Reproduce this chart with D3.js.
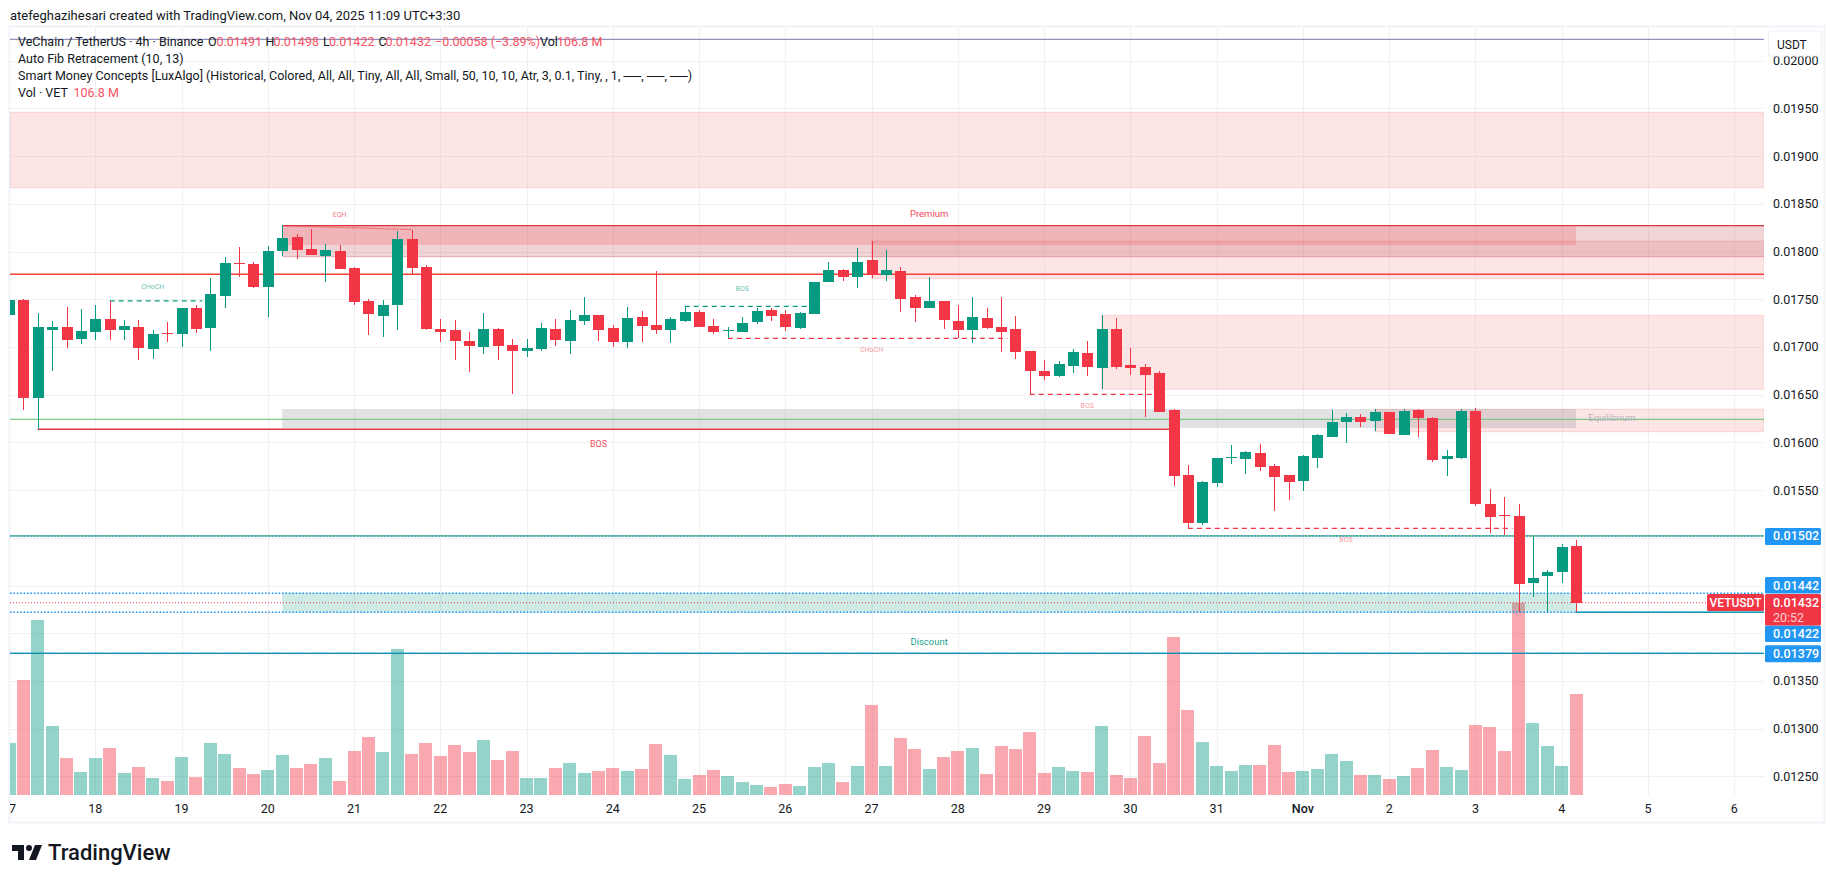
<!DOCTYPE html>
<html>
<head>
<meta charset="utf-8">
<title>VETUSDT 4h</title>
<script src="https://cdn.jsdelivr.net/npm/d3@7"></script>
<style>
    html, body { margin: 0; padding: 0; background: #fff; }
    svg { display: block; }
    text { font-family: Roboto, "Liberation Sans", sans-serif; }
</style>
</head>
<body>
<svg id="chart" width="1835" height="883"></svg>
<script>
// candles, one entry per 4h bar, starting 17 Oct
var opens = [.017336,.017493,.01647,.017179,.01721,.017084,.017158,.017294,.017179,.01721,
    .01698,.017144,.017137,.017409,.0172,.017535,.017885,.017871,.017633,.018007,
    .018154,.018028,.017955,.018007,.017829,.017483,.017325,.017441,.018133,.017839,
    .01719,.017179,.017063,.017,.01719,.017021,.016959,.01698,.01719,.017063,
    .017273,.017336,.0172,.017056,.017318,.017234,.017182,.017276,.01737,.017224,
    .017175,.017161,.017265,.017391,.017349,.017203,.017349,.017685,.01781,.017737,
    .017915,.017758,.0178,.017527,.017412,.017486,.017276,.017182,.017307,.017213,
    .017192,.016962,.016752,.0167,.016804,.016941,.016783,.017192,.016815,.016794,
    .016731,.016343,.015658,.015155,.015574,.015839,.015825,.015888,.015752,.015658,
    .015595,.015836,.016056,.016213,.016265,.016224,.016318,.016077,.016339,.016255,
    .015825,.015836,.016328,.015354,.015239,.015228,.014526,.014599,.014641,.01491];
var highs = [.017493,.017504,.017357,.017273,.01742,.017399,.017441,.017483,.017283,.017283,
    .017179,.017262,.017409,.017441,.017724,.017944,.018049,.017895,.018059,.018276,
    .018185,.018238,.01808,.01807,.017839,.0175,.017493,.018217,.018227,.017855,
    .017294,.017283,.017158,.017357,.0172,.017084,.017084,.017252,.017294,.017388,
    .017524,.017336,.017231,.017423,.017381,.0178,.017318,.017433,.017391,.017297,
    .017213,.017318,.017412,.017412,.017391,.01737,.017685,.017894,.017821,.018041,
    .018114,.01802,.017842,.017548,.017737,.017486,.017444,.017527,.017412,.017527,
    .017328,.016962,.016867,.016857,.016983,.017066,.017339,.017307,.016993,.016825,
    .016752,.016354,.015763,.015595,.015836,.015972,.015909,.015983,.015773,.015658,
    .015867,.016087,.016339,.016307,.016297,.016349,.016318,.016349,.016349,.016265,
    .01592,.016349,.01636,.01551,.015427,.015354,.015018,.014662,.014935,.01498];
var lows = [.017336,.01634,.016138,.016752,.01699,.017032,.017074,.017074,.017074,.016864,
    .016875,.017053,.017,.017147,.016959,.017409,.017738,.017619,.017319,.017955,
    .017923,.017965,.017682,.017818,.017441,.017126,.017105,.017179,.017766,.01718,
    .017053,.016864,.016739,.016927,.016864,.016508,.016896,.016959,.017011,.016927,
    .017231,.017063,.017,.016993,.017056,.01714,.017045,.017265,.017213,.01714,
    .017094,.017161,.017245,.017276,.017171,.017192,.017349,.017685,.017695,.017622,
    .017727,.017695,.01737,.017265,.017412,.017192,.017094,.017045,.017192,.016951,
    .016878,.016507,.016658,.016689,.016731,.0167,.016563,.016773,.01671,.01627,
    .016322,.015547,.0151,.015134,.015532,.015773,.015668,.0157,.01528,.015396,
    .01549,.015731,.016056,.015993,.016161,.016119,.016087,.016077,.016056,.015794,
    .015647,.015825,.015333,.01505,.015029,.014222,.014379,.014222,.014526,.01422];
var closes = [.017493,.01647,.01721,.01721,.017074,.017168,.017294,.017179,.017221,.01699,
    .017137,.017137,.017409,.01719,.017556,.017881,.017878,.017633,.018007,.018143,
    .018017,.017965,.018017,.017818,.017473,.017346,.017441,.018133,.017829,.01719,
    .017158,.017063,.017011,.01719,.017011,.016959,.01699,.0172,.017074,.017283,
    .017336,.017179,.017053,.017307,.017224,.017182,.017297,.01737,.017213,.017161,
    .017182,.017255,.017381,.017328,.017213,.01736,.017685,.01781,.017737,.017894,
    .017758,.01781,.017506,.017412,.017486,.017286,.017182,.017318,.017203,.017161,
    .016951,.016752,.0167,.016825,.016951,.016794,.017192,.016794,.016783,.01671,
    .016322,.015652,.015155,.015585,.015836,.015846,.015899,.015742,.015637,.015584,
    .015857,.016077,.016213,.016265,.016213,.016318,.016087,.016328,.016255,.015815,
    .015857,.016328,.015354,.015218,.015232,.014515,.014578,.014641,.014903,.01432];
// volume in millions
var volumes = [55,121.6,185.1,73,39.1,24.3,39.1,49.7,23.3,29.6,
    18,14.8,40.2,19,55,43.4,28.6,22.2,26.4,42.3,
    28.6,32.8,39.1,14.8,46.5,61.3,45.5,154.4,43.4,55,
    41.2,52.9,45.5,58.2,37,46.5,18,18,28.6,33.8,
    23.3,25.4,28.6,25.4,27.5,53.9,42.3,16.9,21.2,26.4,
    20.1,13.7,10.6,8.5,11.6,9.5,29.6,33.8,13.7,30.7,
    95.2,30.7,60.3,48.6,27.5,40.2,46.5,49.7,22.2,51.8,
    48.6,66.6,23.3,29.6,25.4,24.3,73,21.2,18,62.4,
    33.8,167.1,89.9,56,30.7,25.4,31.7,31.7,52.9,24.3,
    25.4,27.5,43.4,36,21.2,21.2,16.9,20.1,28.6,47.6,
    29.6,26.4,74,71.9,46.5,203.4,76.1,51.8,30.7,106.8];

var dayBars = [0,6,12,18,24,30,36,42,48,54,60,66,72,78,84,90,96,102,108,114,120];
var dayLabels = ['17','18','19','20','21','22','23','24','25','26','27','28','29','30','31','Nov','2','3','4','5','6'];
var priceTicks = [0.0125,0.013,0.0135,0.014,0.0145,0.015,0.0155,0.016,0.0165,0.017,0.0175,0.018,0.0185,0.019,0.0195,0.02];

// supply zones that run to the right edge: top, bottom, first bar
var zoneTops = [.019459,.01811,.017332,.016347];
var zoneBottoms = [.018669,.017715,.016556,.016112];
var zoneStarts = [0,60,76,95];

var lastBar = 109;
var fibRed = .017762, fibGreen = .016242, fibBottom = .01502, fibTeal = .01379, fibTop = .020224;
var swingHigh = .018271, swingLow = .01422;
var blueLevels = [.01502,.01442,.01422,.01379];

var margin = { left: 10, right: 1764, top: 27, bottom: 795, frameRight: 1825, frameBottom: 823 };
var upColor = '#089981', downColor = '#f23645', gridColor = '#f0f1f3';

var svg = d3.select('#chart');
var x = d3.scaleLinear().domain([0, 120]).range([9.04, 1734.2]);
var y = d3.scaleLinear().domain([0.0125, 0.0195]).range([776.4, 108.4]);
var yVol = d3.scaleLinear().domain([0, 210]).range([795, 596.4]);

svg.append('defs').append('clipPath').attr('id', 'plot')
    .append('rect').attr('x', margin.left).attr('y', margin.top)
    .attr('width', margin.right - margin.left).attr('height', margin.bottom - margin.top);
svg.select('defs').append('clipPath').attr('id', 'timeClip')
    .append('rect').attr('x', margin.left).attr('y', margin.bottom)
    .attr('width', margin.frameRight - margin.left).attr('height', margin.frameBottom - margin.bottom);
svg.select('defs').append('clipPath').attr('id', 'priceClip')
    .append('rect').attr('x', margin.right).attr('y', margin.top)
    .attr('width', margin.frameRight - margin.right).attr('height', margin.frameBottom - margin.top);

// header line above the frame
svg.append('text').attr('x', 10).attr('y', 19.5).attr('font-size', 13).attr('fill', '#131722')
    .text('atefeghazihesari created with TradingView.com, Nov 04, 2025 11:09 UTC+3:30');

// frame
svg.append('rect').attr('x', margin.left - 0.5).attr('y', margin.top - 0.5)
    .attr('width', margin.frameRight - margin.left).attr('height', margin.frameBottom - margin.top)
    .attr('fill', 'none').attr('stroke', '#f0f3fa').attr('stroke-width', 2);

var plot = svg.append('g').attr('clip-path', 'url(#plot)');

// grid
plot.append('g').selectAll('line').data(priceTicks).join('line')
    .attr('x1', margin.left).attr('x2', margin.right)
    .attr('y1', function(d) { return Math.round(y(d)) + 0.5; })
    .attr('y2', function(d) { return Math.round(y(d)) + 0.5; })
    .attr('stroke', gridColor);
plot.append('g').selectAll('line').data(dayBars).join('line')
    .attr('x1', function(d) { return Math.round(x(d)) + 0.5; })
    .attr('x2', function(d) { return Math.round(x(d)) + 0.5; })
    .attr('y1', margin.top).attr('y2', margin.bottom)
    .attr('stroke', gridColor);

function band(top, bottom, from, to, color, alpha) {
    return plot.append('rect')
        .attr('x', from).attr('width', to - from)
        .attr('y', y(top)).attr('height', y(bottom) - y(top))
        .attr('fill', color).attr('fill-opacity', alpha);
}

function hline(price, from, to, color, width, dash) {
    var l = plot.append('line')
        .attr('x1', from).attr('x2', to)
        .attr('y1', y(price)).attr('y2', y(price))
        .attr('stroke', color).attr('stroke-width', width);
    if (dash) l.attr('stroke-dasharray', dash);
    return l;
}

// volume sits behind everything else
plot.append('g').selectAll('rect').data(volumes).join('rect')
    .attr('x', function(d, i) { return Math.round(x(i) - 6.5); })
    .attr('width', 13)
    .attr('y', function(d) { return yVol(d); })
    .attr('height', function(d) { return 795 - yVol(d); })
    .attr('fill', function(d, i) { return closes[i] >= opens[i] ? upColor : downColor; })
    .attr('fill-opacity', 0.43);

// zones
zoneTops.forEach(function(t, i) {
    var from = zoneStarts[i] === 0 ? margin.left : x(zoneStarts[i]);
    band(t, zoneBottoms[i], from, margin.right, '#f77c80', 0.2)
        .attr('stroke', '#f77c80').attr('stroke-opacity', 0.25);
});
band(swingHigh, .017946, x(19), margin.right, '#b22833', 0.2);
hline(.017946, x(19), margin.right, '#b22833', 1).attr('stroke-opacity', 0.3);
band(swingHigh, .018069, x(19), x(lastBar), '#f23645', 0.2);
band(.01635, .016151, x(19), x(lastBar), '#787b86', 0.22);
band(.014422, swingLow, x(19), x(lastBar), upColor, 0.2);

// fib + level lines
hline(fibTop, margin.left, margin.right, '#9094bd', 1.3);
hline(fibRed, margin.left, margin.right, '#f44336', 1.3);
hline(fibGreen, margin.left, margin.right, '#81c784', 1.3);
hline(fibBottom, margin.left, margin.right, '#4caf50', 1.3);
hline(fibTeal, margin.left, margin.right, '#00897b', 1.3);
hline(swingHigh, x(19), margin.right, '#d9363e', 1.3);
hline(.016138, x(2), x(81), '#e8323f', 1.3);
hline(swingLow, x(lastBar), margin.right, upColor, 1.3);
blueLevels.forEach(function(p) { hline(p, margin.left, margin.right, '#2196f3', 1.5, '1.6 1.8'); });

// structure break dashes
var dashUp = '5 4';
hline(.017483, x(7), x(14) - 8, upColor, 1.2, dashUp);
hline(.017426, x(47), x(56) - 7, upColor, 1.2, dashUp);
hline(.017091, x(50), x(70) - 8, downColor, 1.2, dashUp);
hline(.016504, x(71), x(80) - 6, downColor, 1.2, dashUp);
hline(.0151, x(82), x(105) - 6, downColor, 1.2, dashUp);
plot.append('line').attr('x1', x(19)).attr('x2', x(28))
    .attr('y1', y(swingHigh)).attr('y2', y(.01823))
    .attr('stroke', downColor).attr('stroke-width', 1.2).attr('stroke-dasharray', '1.5 1').attr('stroke-opacity', 0.75);

// current price dots
hline(closes[lastBar], margin.left, margin.right, downColor, 1, '1 2');

// candles
var candles = plot.append('g').attr('shape-rendering', 'crispEdges');
candles.selectAll('line').data(opens).join('line')
    .attr('x1', function(d, i) { return Math.round(x(i)) + 0.5; })
    .attr('x2', function(d, i) { return Math.round(x(i)) + 0.5; })
    .attr('y1', function(d, i) { return y(highs[i]); })
    .attr('y2', function(d, i) { return y(lows[i]); })
    .attr('stroke', function(d, i) { return closes[i] >= d ? upColor : downColor; });
candles.selectAll('rect').data(opens).join('rect')
    .attr('x', function(d, i) { return Math.round(x(i)) - 5; })
    .attr('width', 11)
    .attr('y', function(d, i) { return y(Math.max(d, closes[i])); })
    .attr('height', function(d, i) { return Math.max(1, Math.abs(y(d) - y(closes[i]))); })
    .attr('fill', function(d, i) { return closes[i] >= d ? upColor : downColor; });

// SMC labels: text, bar position, price, size, colour, opacity
function tag(txt, bar, price, size, color, alpha) {
    plot.append('text').attr('x', x(bar)).attr('y', y(price))
        .attr('text-anchor', 'middle').attr('dominant-baseline', 'middle')
        .attr('font-size', size).attr('fill', color).attr('fill-opacity', alpha)
        .text(txt);
}
tag('EQH', 23, .018385, 7, downColor, 0.7);
tag('CHoCH', 10, .017622, 7, upColor, 0.65);
tag('BOS', 51, .01761, 7, upColor, 0.65);
tag('CHoCH', 60, .016962, 7, downColor, 0.55);
tag('BOS', 75, .016378, 7, downColor, 0.55);
tag('BOS', 41, .015975, 9, downColor, 0.9);
tag('BOS', 93, .01498, 7, downColor, 0.55);
tag('Premium', 64, .018388, 9.5, downColor, 0.95);
tag('Discount', 64, .013903, 9.5, upColor, 0.95);
tag('Equilibrium', 111.5, .016255, 9.5, '#b2b5be', 1);

// time axis
svg.append('g').attr('clip-path', 'url(#timeClip)').selectAll('text').data(dayBars).join('text')
    .attr('x', function(d) { return x(d); }).attr('y', 813)
    .attr('text-anchor', 'middle').attr('font-size', 12.5).attr('fill', '#131722')
    .attr('font-weight', function(d, i) { return dayLabels[i] === 'Nov' ? 500 : 400; })
    .text(function(d, i) { return dayLabels[i]; });

// price axis
svg.append('g').attr('clip-path', 'url(#priceClip)').selectAll('text').data(priceTicks).join('text')
    .attr('x', 1773).attr('y', function(d) { return y(d) + 4.5; })
    .attr('font-size', 12.5).attr('fill', '#131722')
    .text(function(d) { return d.toFixed(5); });

// USDT button
svg.append('rect').attr('x', 1768.5).attr('y', 31).attr('width', 53).attr('height', 25).attr('rx', 3)
    .attr('fill', '#fff').attr('stroke', '#eceff4');
svg.append('text').attr('x', 1777).attr('y', 48.5).attr('font-size', 12).attr('fill', '#131722').text('USDT');

// price tags, some pushed off their level so they do not overlap
function priceTag(txt, top, height, color) {
    svg.append('rect').attr('x', 1765).attr('y', top).attr('width', 56).attr('height', height)
        .attr('rx', 1.5).attr('fill', color);
    svg.append('text').attr('x', 1773).attr('y', top + 12.5).attr('font-size', 12.5).attr('font-weight', 500)
        .attr('fill', '#fff').text(txt);
}
priceTag('0.01502', y(.01502) - 8, 17, '#2196f3');
priceTag('0.01442', 577, 16.5, '#2196f3');
priceTag('0.01422', 625.5, 16.5, '#2196f3');
priceTag('0.01379', y(.01379) - 8, 17, '#2196f3');
priceTag('0.01432', 594, 31.5, downColor);
svg.append('text').attr('x', 1773).attr('y', 621.5).attr('font-size', 12.5).attr('fill', '#fff').attr('fill-opacity', 0.75).text('20:52');
svg.append('rect').attr('x', 1707).attr('y', 594).attr('width', 57).attr('height', 17).attr('rx', 1.5).attr('fill', downColor);
svg.append('text').attr('x', 1735.5).attr('y', 606.5).attr('text-anchor', 'middle')
    .attr('font-size', 12).attr('font-weight', 500).attr('fill', '#fff').text('VETUSDT');

// legend, each piece placed on its own
var legendColor = '#131722', legendRed = '#f7525f';
function legend(txt, xPos, yPos, color) {
    svg.append('text').attr('x', xPos).attr('y', yPos).attr('font-size', 12.5).attr('fill', color).text(txt);
}
legend('VeChain / TetherUS · 4h · Binance', 18, 46, legendColor);
legend('O', 208, 46, legendColor); legend('0.01491', 216.5, 46, legendRed);
legend('H', 265.5, 46, legendColor); legend('0.01498', 273.5, 46, legendRed);
legend('L', 323, 46, legendColor); legend('0.01422', 329, 46, legendRed);
legend('C', 378.5, 46, legendColor); legend('0.01432', 385.5, 46, legendRed);
legend('−0.00058 (−3.89%)', 435, 46, legendRed);
legend('Vol', 540, 46, legendColor); legend('106.8 M', 557, 46, legendRed);
legend('Auto Fib Retracement (10, 13)', 18, 63, legendColor);
legend('Smart Money Concepts [LuxAlgo] (Historical, Colored, All, All, Tiny, All, All, Small, 50, 10, 10, Atr, 3, 0.1, Tiny, , 1, ──, ──, ──)', 18, 80, legendColor);
legend('Vol · VET', 18, 97, legendColor);
legend('106.8 M', 73.5, 97, legendRed);

// logo
svg.append('path').attr('transform', 'translate(10,839)')
    .attr('d', 'M14 6H2v6h6v9h6V6zm12 15h-7l6-15h7l-6 15zm-7-9a3 3 0 1 0 0-6 3 3 0 0 0 0 6z')
    .attr('fill', '#131722');
svg.append('text').attr('x', 48).attr('y', 860).attr('font-size', 22).attr('font-weight', 500)
    .attr('fill', '#131722').text('TradingView');
</script>
</body>
</html>
